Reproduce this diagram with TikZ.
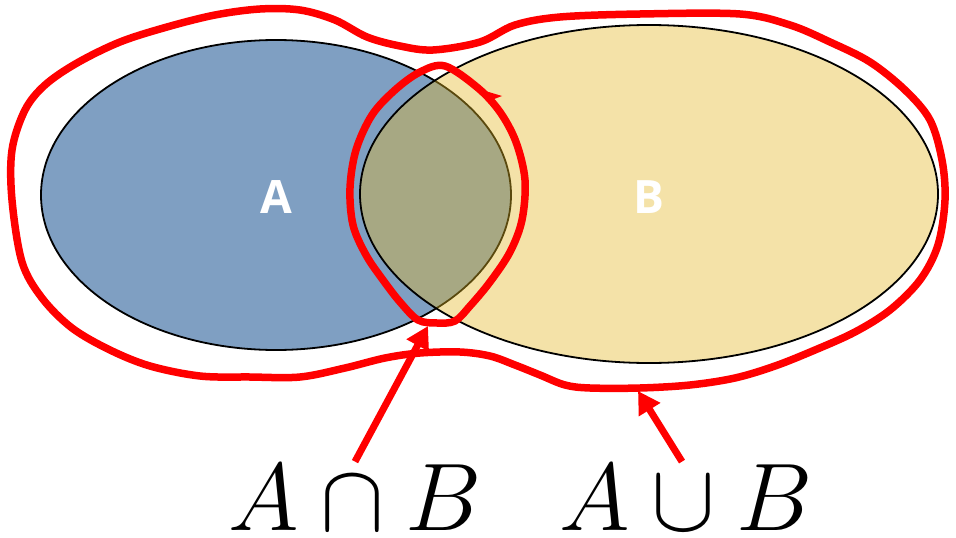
\documentclass[tikz,border=0pt]{standalone}
\usepackage{fontspec}
\setsansfont{Open Sans}
\usetikzlibrary{arrows.meta,shapes.geometric,calc}
\definecolor{setA}{RGB}{127,159,194}
\definecolor{setB}{RGB}{227,183,37}
\definecolor{pen}{RGB}{255,0,0}
\tikzset{
  setshape/.style={ellipse, draw=black, line width=1.8pt, inner sep=0pt, outer sep=0pt},
  setlabel/.style={text=white, font=\sffamily\bfseries\fontsize{46}{46}\selectfont},
  penline/.style={draw=pen, line width=7.5pt, line join=round, line cap=round},
  penarrow/.style={draw=pen, line width=7pt, -{Triangle[length=22pt,width=24pt]}},
  mathlabel/.style={inner sep=0pt, scale=3.86, font=\Huge}
}
\begin{document}
\begin{tikzpicture}[x=1pt,y=-1pt]
\useasboundingbox (0,0) rectangle (956,538);
% sets
\node[setshape, fill=setA, minimum width=470pt, minimum height=310pt] (A) at (276,195) {};
\node[setshape, fill=setB, fill opacity=0.4, minimum width=578pt, minimum height=338pt] (B) at (649,194) {};
\node[setlabel] (la) at (276,197) {A};
\node[setlabel] (lb) at (649,197) {B};
% union outline
\draw[penline] plot[smooth cycle, tension=0.55] coordinates {
 (12,200) (12,150) (25,110) (45,85) (77,63) (120,42) (167,27) (215,15) (260,9) (300,10)
 (335,20) (367,37) (400,46) (433,50) (480,42) (515,25) (560,17) (640,14) (740,14)
 (790,25) (830,42) (870,62) (905,90) (930,120) (942,160) (945,200) (938,245) (920,280)
 (890,310) (855,332) (815,350) (775,366) (735,378) (690,385) (640,388) (590,388) (565,385)
 (540,375) (515,365) (490,356) (460,352) (420,353) (385,358) (345,368) (300,377) (250,377)
 (200,376) (150,366) (110,350) (72,328) (42,298) (22,262)};
% intersection outline
\draw[penline] plot[smooth cycle, tension=0.55] coordinates {
 (445,66) (478,88) (500,112) (516,142) (525,180) (522,220) (510,252) (490,282) (470,306)
 (455,321) (437,323) (418,320) (400,302) (383,280) (366,255) (353,225) (350,188) (356,150)
 (372,115) (395,90) (420,72)};
\fill[pen] (482,90) -- (502,96) -- (489,101) -- cycle;
% labels
\node[mathlabel, anchor=base] (ib) at (355,530) {$A\cap B$};
\node[mathlabel, anchor=base] (ub) at (686,530) {$A\cup B$};
\coordinate (icap) at (428,326);
\coordinate (ucup) at (638,391);
\draw[penarrow] ($(ib.north)+(0,-2)$) -- (icap);
\draw[penarrow] ($(ub.north)+(-4,-2)$) -- (ucup);
\end{tikzpicture}
\end{document}
